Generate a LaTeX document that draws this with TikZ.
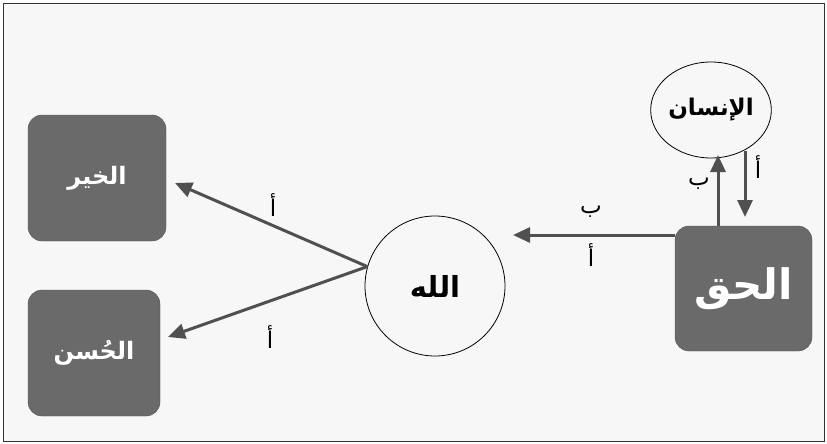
\documentclass[tikz,border=0pt]{standalone}
\usepackage{fontspec}
\usetikzlibrary{arrows.meta,shapes.geometric}
\newfontfamily\arabicfont[Script=Arabic]{DejaVu Sans}
\TeXXeTstate=1
\definecolor{boxgray}{HTML}{6A6A6A}
\definecolor{arrowgray}{HTML}{505050}
\definecolor{bggray}{HTML}{F7F7F7}
\tikzset{
  darkbox/.style={draw=boxgray!80!black, fill=boxgray, rounded corners=14pt, text=white, font=\arabicfont\bfseries},
  ringnode/.style={draw=black, line width=0.8pt, fill=bggray, font=\arabicfont\bfseries, text=black},
  link/.style={draw=arrowgray, line width=3pt, -{Triangle[length=17pt,width=15pt]}},
  lbl/.style={font=\arabicfont\fontsize{23}{26}\selectfont, text=black, inner sep=1pt}
}
\begin{document}
\begin{tikzpicture}[x=1pt,y=-1pt]
\useasboundingbox (0,0) rectangle (827,444);
\draw[fill=bggray, draw=black!80, line width=0.8pt] (3,3) rectangle (824,441);
% boxes
\node[darkbox, minimum width=138pt, minimum height=126pt] (khayr) at (97,178) {\fontsize{24}{28}\selectfont\beginR الخير\endR};
\node[darkbox, minimum width=132pt, minimum height=126pt] (hasan) at (94,353) {\fontsize{24}{28}\selectfont\beginR الحُسن\endR};
\node[darkbox, minimum width=137pt, minimum height=125pt] (haqq) at (743.5,288.5) {\fontsize{42}{48}\selectfont\beginR الحق\endR};
% circles
\node[ringnode, circle, minimum size=140pt, inner sep=0pt] (allah) at (435,286) {\fontsize{29}{34}\selectfont\beginR الله\endR};
\node[ringnode, ellipse, minimum width=113pt, minimum height=96pt, inner sep=0pt] (insan) at (711,110) {\fontsize{23}{27}\selectfont\beginR الإنسان\endR};
% free ends
\coordinate (tkhayr) at (175,183);
\coordinate (thasan) at (168,337);
\coordinate (tallah) at (513,235);
\coordinate (tup) at (718,155);
\coordinate (tdown) at (745,217);
\coordinate (sdown) at (745,151);
\coordinate (sup2) at (718,226);
\coordinate (shor) at (675,235);
% connectors
\draw[link] (allah.164) -- (tkhayr);
\draw[link] (allah.164) -- (thasan);
\draw[link] (shor) -- (tallah);
\draw[link] (sup2) -- (tup);
\draw[link] (sdown) -- (tdown);
% labels
\node[lbl] (l1) at (273,205) {\beginR أ\endR};
\node[lbl] (l2) at (270,337) {\beginR أ\endR};
\node[lbl] (l3) at (591,212) {\beginR ب\endR};
\node[lbl] (l4) at (591,255) {\beginR أ\endR};
\node[lbl] (l5) at (699,184) {\beginR ب\endR};
\node[lbl] (l6) at (758,167) {\beginR أ\endR};
\end{tikzpicture}
\end{document}
